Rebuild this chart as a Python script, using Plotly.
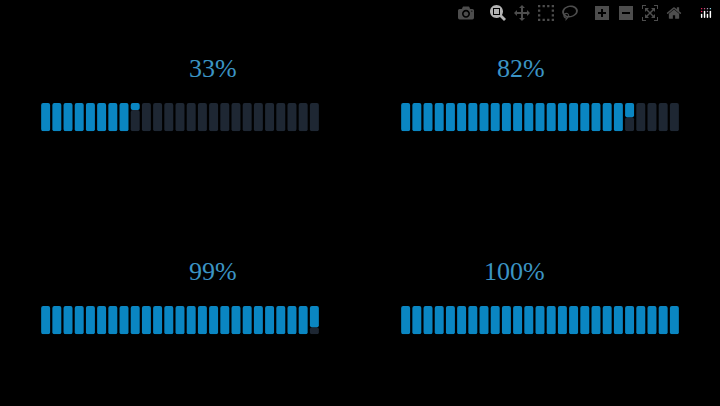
import plotly.graph_objects as go

percent_values = [33, 82, 99, 100]
segment_count = 25

fill_color = '#0a86c2'
empty_color = '#1e2733'

fig = go.Figure()

x_domains = [[0.0556, 0.4444], [0.5556, 0.9444], [0.0556, 0.4444], [0.5556, 0.9444]]
y_domains = [[0.677, 0.746], [0.677, 0.746], [0.177, 0.246], [0.177, 0.246]]

annotations = []
for i, pct in enumerate(percent_values):
    filled = segment_count * pct / 100
    seg = list(range(segment_count))
    # fraction of each segment that is filled (from the top)
    frac = [min(1.0, max(0.0, filled - s)) for s in seg]
    xa = 'x' if i == 0 else f'x{i + 1}'
    ya = 'y' if i == 0 else f'y{i + 1}'
    fig.add_trace(go.Bar(x=seg, y=[1 - f for f in frac], base=[0] * segment_count,
                         marker=dict(color=empty_color, cornerradius=2, line_width=0),
                         xaxis=xa, yaxis=ya, showlegend=False, hoverinfo='skip'))
    fig.add_trace(go.Bar(x=seg, y=frac, base=[1 - f for f in frac],
                         marker=dict(color=fill_color, cornerradius=2, line_width=0),
                         xaxis=xa, yaxis=ya, showlegend=False, hoverinfo='skip'))
    key = '' if i == 0 else str(i + 1)
    fig.update_layout({
        f'xaxis{key}': dict(domain=x_domains[i], range=[-0.5, segment_count - 0.5], visible=False,
                            anchor=ya),
        f'yaxis{key}': dict(domain=y_domains[i], range=[0, 1], visible=False, anchor=xa),
    })
    annotations.append(dict(
        x=(x_domains[i][0] + x_domains[i][1]) / 2 + 0.01, y=y_domains[i][1] + 0.085,
        xref='paper', yref='paper', text=f'{pct}%', showarrow=False,
        font=dict(family='Liberation Serif', size=26, color='#3b94c4'),
        yanchor='middle'))

fig.update_layout(
    width=720, height=406,
    margin=dict(l=0, r=0, t=0, b=0),
    paper_bgcolor='black', plot_bgcolor='black',
    barmode='overlay', bargap=0.2,
    annotations=annotations,
)

fig.write_html("out.html", post_script="document.body.style.margin='0';document.body.style.background='black';")
